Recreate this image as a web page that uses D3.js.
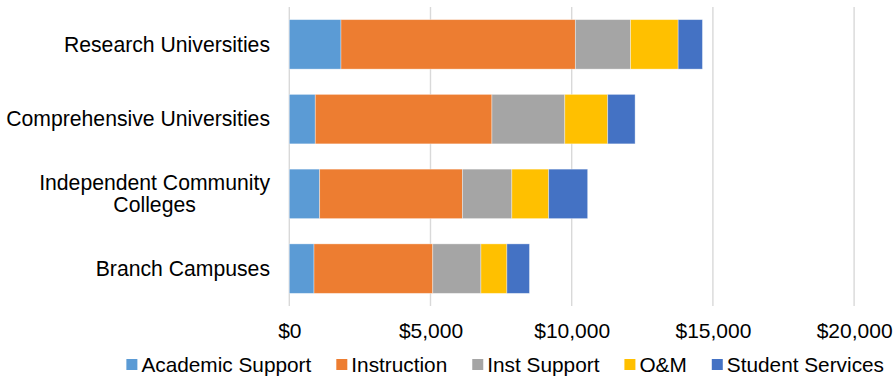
<!DOCTYPE html>
<html>
<head>
<meta charset="utf-8">
<script src="https://cdn.jsdelivr.net/npm/d3@7"></script>
<style>
  html, body { margin: 0; padding: 0; background: #fff; }
  svg { display: block; font-family: "Liberation Sans", Arial, sans-serif; }
</style>
</head>
<body>
<svg id="chart" width="894" height="380"></svg>
<script>
// Spending per student by institution type, split by function
const categories = [
  "Research Universities",
  "Comprehensive Universities",
  "Independent Community Colleges",
  "Branch Campuses"
];
const seriesNames = ["Academic Support", "Instruction", "Inst Support", "O&M", "Student Services"];
const seriesColors = ["#5B9BD5", "#ED7D31", "#A5A5A5", "#FFC000", "#4472C4"];

const academicSupport = [1830, 920, 1075, 875];
const instruction     = [8300, 6255, 5055, 4205];
const instSupport     = [1955, 2580, 1750, 1705];
const operationsMaint = [1685, 1520, 1305, 920];
const studentServices = [860, 970, 1380, 800];

const xTicks = [0, 5000, 10000, 15000, 20000];

const seriesValues = [academicSupport, instruction, instSupport, operationsMaint, studentServices];

const rows = categories.map((c, i) => {
  const r = { category: c };
  seriesNames.forEach((s, j) => { r[s] = seriesValues[j][i]; });
  return r;
});

const svg = d3.select("#chart");
const plot = { left: 289.3, top: 7, bottom: 306 };

const x = d3.scaleLinear().domain([0, 20000]).range([plot.left, plot.left + 4 * 141.2]);
const y = d3.scaleBand().domain(categories).range([plot.top, plot.bottom])
  .paddingInner(0.338).paddingOuter(0.169);

// vertical gridlines
svg.append("g").selectAll("line").data(xTicks).join("line")
  .attr("x1", d => x(d)).attr("x2", d => x(d))
  .attr("y1", plot.top).attr("y2", plot.bottom)
  .attr("stroke", "#d9d9d9").attr("stroke-width", 1.4);

// stacked bars
const stacked = d3.stack().keys(seriesNames)(rows);
svg.append("g").selectAll("g").data(stacked).join("g")
  .attr("fill", (d, i) => seriesColors[i])
  .selectAll("rect").data(d => d).join("rect")
  .attr("x", d => x(d[0]))
  .attr("width", d => x(d[1]) - x(d[0]))
  .attr("y", d => y(d.data.category))
  .attr("height", y.bandwidth())
  .attr("stroke", "#ffffff").attr("stroke-opacity", 0.45).attr("stroke-width", 0.8);

// x axis labels
const xAxis = d3.axisBottom(x).tickValues(xTicks).tickSize(0)
  .tickFormat(d => "$" + d3.format(",")(d));
const xg = svg.append("g").attr("transform", `translate(0,${plot.bottom})`).call(xAxis);
xg.select(".domain").remove();
xg.selectAll("text").attr("font-size", 21).attr("fill", "#000")
  .attr("font-family", "Liberation Sans, Arial, sans-serif")
  .attr("y", 32.3).attr("dy", 0);

// category labels, wrapped when wider than the label area
const labelRight = 270;
const maxLabelWidth = 270;
const catG = svg.append("g").attr("font-size", 21.2).attr("fill", "#000");
categories.forEach(c => {
  const words = c.split(" ");
  const lines = [];
  let cur = "";
  const probe = catG.append("text");
  words.forEach(w => {
    const t = cur ? cur + " " + w : w;
    probe.text(t);
    if (probe.node().getComputedTextLength() > maxLabelWidth && cur) {
      lines.push(cur); cur = w;
    } else cur = t;
  });
  lines.push(cur);
  const widths = lines.map(l => { probe.text(l); return probe.node().getComputedTextLength(); });
  probe.remove();
  const maxW = d3.max(widths);
  const cx = labelRight - maxW / 2;
  const lineH = 22;
  const mid = y(c) + y.bandwidth() / 2;
  const firstBase = mid + 7.3 - (lines.length - 1) * lineH / 2;
  lines.forEach((l, k) => {
    catG.append("text").attr("x", cx).attr("y", firstBase + k * lineH)
      .attr("text-anchor", "middle").text(l);
  });
});

// legend, right-aligned under the plot
const legend = svg.append("g").attr("font-size", 20.8).attr("fill", "#000");
const legendY = 372;
const marker = 11, markerGap = 4, itemGap = 25;
const items = [];
seriesNames.forEach((s, i) => {
  const g = legend.append("g");
  g.append("rect").attr("x", 0).attr("y", legendY - 13).attr("width", marker).attr("height", marker)
    .attr("fill", seriesColors[i]);
  const t = g.append("text").attr("x", marker + markerGap).attr("y", legendY).text(s);
  const w = marker + markerGap + t.node().getComputedTextLength();
  items.push({ g, w });
});
const totalW = d3.sum(items, d => d.w) + itemGap * (items.length - 1);
let lx = 884 - totalW;
items.forEach(it => {
  it.g.attr("transform", `translate(${lx},0)`);
  lx += it.w + itemGap;
});
</script>
</body>
</html>
